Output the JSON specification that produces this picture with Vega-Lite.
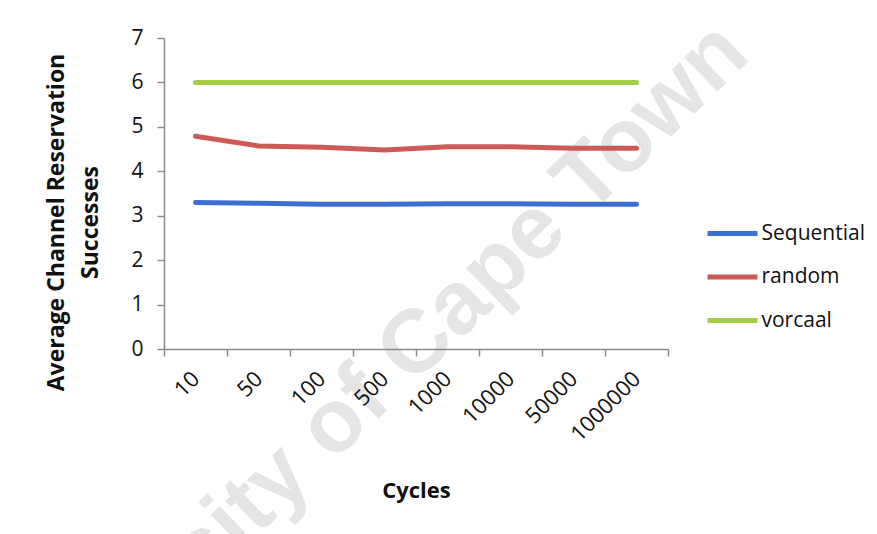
{
  "$schema": "https://vega.github.io/schema/vega-lite/v6.json",
  "width": 504,
  "height": 311,
  "autosize": {"type": "none"},
  "padding": {"left": 164, "top": 38, "right": 209, "bottom": 185},
  "background": "#ffffff",
  "config": {
    "font": "Open Sans",
    "view": {"stroke": null},
    "axis": {"labelFont": "Open Sans", "titleFont": "Open Sans", "labelColor": "#111111", "titleColor": "#111111"}
  },
  "data": {
    "values": [
      {"cycles": "10", "series": "Sequential", "value": 3.30},
      {"cycles": "50", "series": "Sequential", "value": 3.28},
      {"cycles": "100", "series": "Sequential", "value": 3.26},
      {"cycles": "500", "series": "Sequential", "value": 3.26},
      {"cycles": "1000", "series": "Sequential", "value": 3.27},
      {"cycles": "10000", "series": "Sequential", "value": 3.27},
      {"cycles": "50000", "series": "Sequential", "value": 3.26},
      {"cycles": "1000000", "series": "Sequential", "value": 3.26},
      {"cycles": "10", "series": "random", "value": 4.79},
      {"cycles": "50", "series": "random", "value": 4.57},
      {"cycles": "100", "series": "random", "value": 4.54},
      {"cycles": "500", "series": "random", "value": 4.48},
      {"cycles": "1000", "series": "random", "value": 4.55},
      {"cycles": "10000", "series": "random", "value": 4.55},
      {"cycles": "50000", "series": "random", "value": 4.52},
      {"cycles": "1000000", "series": "random", "value": 4.52},
      {"cycles": "10", "series": "vorcaal", "value": 6},
      {"cycles": "50", "series": "vorcaal", "value": 6},
      {"cycles": "100", "series": "vorcaal", "value": 6},
      {"cycles": "500", "series": "vorcaal", "value": 6},
      {"cycles": "1000", "series": "vorcaal", "value": 6},
      {"cycles": "10000", "series": "vorcaal", "value": 6},
      {"cycles": "50000", "series": "vorcaal", "value": 6},
      {"cycles": "1000000", "series": "vorcaal", "value": 6}
    ]
  },
  "layer": [
    {
      "data": {"values": [{"watermark": "University of Cape Town"}]},
      "mark": {"type": "text", "font": "Liberation Sans", "fontWeight": "bold", "fontSize": 90, "angle": -44, "align": "right", "baseline": "middle", "dx": 135, "fill": "#000000", "fillOpacity": 0.1},
      "encoding": {
        "text": {"field": "watermark", "type": "nominal"},
        "x": {"datum": "1000000", "type": "nominal"},
        "y": {"datum": 4.88, "type": "quantitative"}
      }
    },
    {
      "mark": {"type": "line", "strokeWidth": 5, "strokeCap": "round", "strokeJoin": "round"},
      "encoding": {
        "x": {
          "field": "cycles",
          "type": "nominal",
          "sort": ["10", "50", "100", "500", "1000", "10000", "50000", "1000000"],
          "scale": {"type": "band", "paddingInner": 0, "paddingOuter": 0},
          "axis": {
            "title": "Cycles",
            "titleFontSize": 22,
            "titleFontWeight": "bold",
            "titleY": 141,
            "titleBaseline": "middle",
            "labelAngle": -45,
            "labelAlign": "right",
            "labelBaseline": "middle",
            "labelFontSize": 22,
            "labelPadding": 19,
            "tickBand": "extent",
            "tickSize": 7,
            "tickColor": "#8c8c8c",
            "tickWidth": 1.5,
            "domainColor": "#8c8c8c",
            "domainWidth": 1.5,
            "grid": false,
            "zindex": 1
          }
        },
        "y": {
          "field": "value",
          "type": "quantitative",
          "scale": {"domain": [0, 7], "nice": false},
          "axis": {
            "title": ["Average Channel Reservation", "Successes"],
            "titleFontSize": 23,
            "titleFontWeight": "bold",
            "titleLineHeight": 34,
            "titleAngle": -90,
            "titleAlign": "center",
            "titleBaseline": "top",
            "titleX": -119,
            "titleY": 184,
            "values": [0, 1, 2, 3, 4, 5, 6, 7],
            "labelFontSize": 21,
            "labelPadding": 14,
            "tickSize": 7,
            "tickColor": "#8c8c8c",
            "tickWidth": 1.5,
            "domainColor": "#8c8c8c",
            "domainWidth": 1.5,
            "gridColor": "#8c8c8c",
            "gridWidth": 1.5,
            "gridOpacity": 1
          }
        },
        "color": {
          "field": "series",
          "type": "nominal",
          "scale": {"domain": ["Sequential", "random", "vorcaal"], "range": ["#3c6fd4", "#cc5a55", "#a2cd45"]},
          "legend": {
            "title": null,
            "orient": "none",
            "legendX": 553.5,
            "legendY": 180.5,
            "symbolType": "M-2,0H2",
            "symbolSize": 625,
            "symbolStrokeWidth": 5,
            "symbolFillColor": "transparent",
            "labelFont": "Open Sans",
            "labelFontSize": 21,
            "labelColor": "#111111",
            "labelOffset": 14,
            "rowPadding": 18.5
          }
        }
      }
    }
  ]
}
